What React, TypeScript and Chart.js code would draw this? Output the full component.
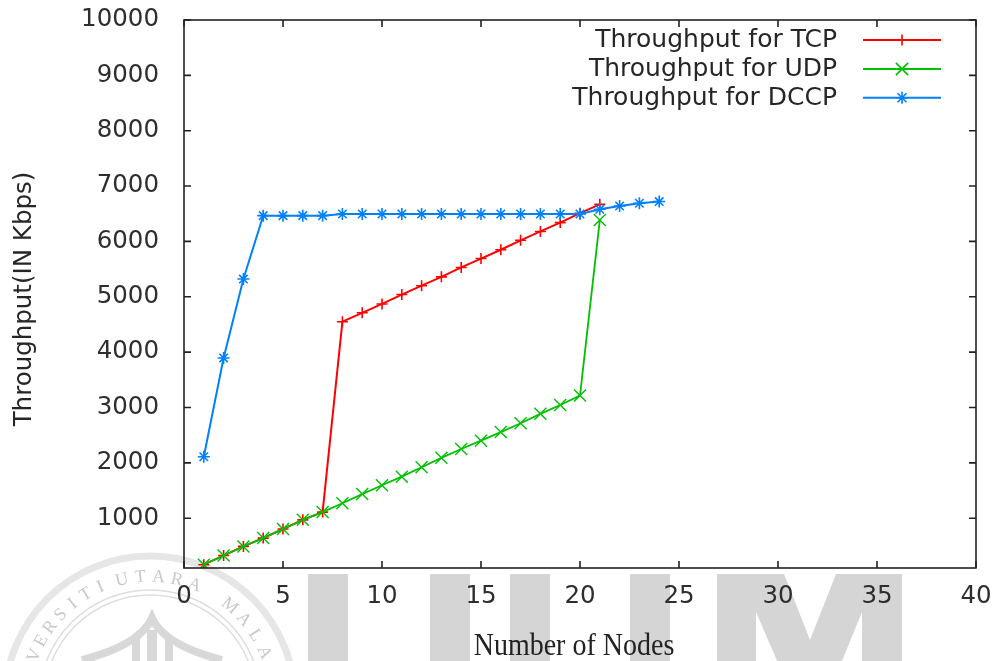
import React, { useEffect, useRef } from "react";
import { Chart, registerables } from "chart.js";

Chart.register(...registerables);

// ---------- data ----------
const tcpNodes = [1, 2, 3, 4, 5, 6, 7, 8, 9, 10, 11, 12, 13, 14, 15, 16, 17, 18, 19, 20, 21];
const tcpThroughput = [160, 325, 490, 640, 805, 970, 1110, 4550, 4710, 4870, 5040, 5200, 5360, 5530, 5690, 5850, 6020, 6180, 6340, 6510, 6670];

const udpNodes = [1, 2, 3, 4, 5, 6, 7, 8, 9, 10, 11, 12, 13, 14, 15, 16, 17, 18, 19, 20, 21];
const udpThroughput = [160, 325, 490, 640, 805, 970, 1110, 1270, 1435, 1595, 1750, 1920, 2090, 2250, 2400, 2555, 2715, 2885, 3045, 3215, 6385];

const dccpNodes = [1, 2, 3, 4, 5, 6, 7, 8, 9, 10, 11, 12, 13, 14, 15, 16, 17, 18, 19, 20, 21, 22, 23, 24];
const dccpThroughput = [2110, 3895, 5320, 6465, 6465, 6465, 6465, 6495, 6495, 6495, 6495, 6495, 6495, 6495, 6495, 6495, 6495, 6495, 6495, 6495, 6580, 6640, 6690, 6720];

const seriesLabels = ["Throughput for TCP", "Throughput for UDP", "Throughput for DCCP"];
const seriesColors = ["#ff0000", "#00c000", "#0080ff"];

const xTickValues = [0, 5, 10, 15, 20, 25, 30, 35, 40];
const yTickValues = [1000, 2000, 3000, 4000, 5000, 6000, 7000, 8000, 9000, 10000];

const xTitle = "Number of Nodes";
const yTitle = "Throughput(IN Kbps)";
const watermarkText = ["UNIVERSITI", "UTARA", "MALAYSIA"];

const toPoints = (xs: number[], ys: number[]) => xs.map((x, i) => ({ x, y: ys[i] }));

const SANS = '"DejaVu Sans", sans-serif';
const SERIF = '"Liberation Serif", "Times New Roman", serif';

function drawMarker(ctx: CanvasRenderingContext2D, style: string, x: number, y: number, r: number) {
  ctx.beginPath();
  if (style === "cross" || style === "star") {
    ctx.moveTo(x - r, y);
    ctx.lineTo(x + r, y);
    ctx.moveTo(x, y - r);
    ctx.lineTo(x, y + r);
  }
  if (style === "crossRot" || style === "star") {
    const d = style === "star" ? r * 0.75 : r * 0.72;
    ctx.moveTo(x - d, y - d);
    ctx.lineTo(x + d, y + d);
    ctx.moveTo(x - d, y + d);
    ctx.lineTo(x + d, y - d);
  }
  ctx.stroke();
}

const decor = {
  id: "decor",
  beforeDraw(chart: any) {
    const ctx: CanvasRenderingContext2D = chart.ctx;
    ctx.save();
    // watermark big letters
    ctx.fillStyle = "#d5d5d5";
    const bars = [
      [308, 348],
      [430, 470],
      [510, 550],
      [630, 670],
      [717, 756],
      [862, 902],
    ];
    bars.forEach(([a, b]) => ctx.fillRect(a, 574, b - a, 100));
    ctx.beginPath();
    ctx.moveTo(756, 574);
    ctx.lineTo(784, 574);
    ctx.lineTo(810, 640);
    ctx.lineTo(836, 574);
    ctx.lineTo(862, 574);
    ctx.lineTo(862, 612);
    ctx.lineTo(826, 700);
    ctx.lineTo(794, 700);
    ctx.lineTo(756, 612);
    ctx.closePath();
    ctx.fill();

    // watermark seal
    const cx = 150;
    const cy = 701;
    ctx.strokeStyle = "#e6e6e6";
    ctx.lineWidth = 7;
    ctx.beginPath();
    ctx.arc(cx, cy, 145, 0, Math.PI * 2);
    ctx.stroke();
    ctx.strokeStyle = "#dedede";
    ctx.lineWidth = 1.5;
    ctx.beginPath();
    ctx.arc(cx, cy, 111, 0, Math.PI * 2);
    ctx.stroke();
    ctx.beginPath();
    ctx.arc(cx, cy, 106, 0, Math.PI * 2);
    ctx.stroke();

    ctx.fillStyle = "#c9c9c9";
    ctx.font = "18px " + SERIF;
    ctx.textAlign = "center";
    ctx.textBaseline = "middle";
    const starts = [-91, -13, 40];
    const steps = [7.5, 8.5, 9];
    watermarkText.forEach((word, wi) => {
      for (let i = 0; i < word.length; i++) {
        const ang = ((starts[wi] + i * steps[wi]) * Math.PI) / 180;
        ctx.save();
        ctx.translate(cx + 124 * Math.sin(ang), cy - 124 * Math.cos(ang));
        ctx.rotate(ang);
        ctx.fillText(word[i], 0, 0);
        ctx.restore();
      }
    });
    ctx.strokeStyle = "#d8d8d8";
    ctx.lineWidth = 8;
    ctx.beginPath();
    ctx.moveTo(82, 660);
    ctx.quadraticCurveTo(140, 645, 152, 618);
    ctx.quadraticCurveTo(164, 645, 222, 660);
    ctx.stroke();
    ctx.fillStyle = "#d8d8d8";
    ctx.fillRect(132, 636, 8, 30);
    ctx.fillRect(147, 630, 10, 36);
    ctx.fillRect(165, 636, 8, 30);
    ctx.restore();
  },
  afterDraw(chart: any) {
    const ctx: CanvasRenderingContext2D = chart.ctx;
    const { left, right, top, bottom } = chart.chartArea;
    const xs = chart.scales.x;
    const ys = chart.scales.y;
    ctx.save();
    // frame
    ctx.strokeStyle = "#222222";
    ctx.lineWidth = 1.6;
    ctx.strokeRect(left, top, right - left, bottom - top);
    // inward ticks (mirrored)
    const tl = 7;
    ctx.beginPath();
    xTickValues.forEach((v) => {
      const px = xs.getPixelForValue(v);
      ctx.moveTo(px, bottom);
      ctx.lineTo(px, bottom - tl);
      ctx.moveTo(px, top);
      ctx.lineTo(px, top + tl);
    });
    yTickValues.forEach((v) => {
      const py = ys.getPixelForValue(v);
      ctx.moveTo(left, py);
      ctx.lineTo(left + tl, py);
      ctx.moveTo(right, py);
      ctx.lineTo(right - tl, py);
    });
    ctx.stroke();

    // legend
    const styles = ["cross", "crossRot", "star"];
    const radii = [5.5, 8.5, 6];
    const rows = [40, 69, 97.7];
    ctx.font = "25px " + SANS;
    ctx.textAlign = "right";
    ctx.textBaseline = "alphabetic";
    seriesLabels.forEach((lab, i) => {
      ctx.fillStyle = "#262626";
      ctx.fillText(lab, 837, rows[i] + 7);
      ctx.strokeStyle = seriesColors[i];
      ctx.lineWidth = 2;
      ctx.beginPath();
      ctx.moveTo(863, rows[i]);
      ctx.lineTo(941, rows[i]);
      ctx.stroke();
      ctx.lineWidth = 1.6;
      drawMarker(ctx, styles[i], 902, rows[i], radii[i]);
    });

    // axis titles
    ctx.fillStyle = "#262626";
    ctx.textAlign = "center";
    ctx.textBaseline = "middle";
    ctx.font = "24.5px " + SANS;
    ctx.save();
    ctx.translate(25, 299);
    ctx.rotate(-Math.PI / 2);
    ctx.fillText(yTitle, 0, 0);
    ctx.restore();

    ctx.fillStyle = "#222222";
    ctx.font = "28px " + SERIF;
    ctx.textBaseline = "alphabetic";
    ctx.save();
    ctx.translate(574, 655);
    ctx.scale(1, 1.15);
    ctx.fillText(xTitle, 0, 0);
    ctx.restore();
    ctx.restore();
  },
};

export default function App() {
  const ref = useRef<HTMLCanvasElement | null>(null);
  useEffect(() => {
    if (!ref.current) return;
    const chart = new Chart(ref.current, {
      type: "line",
      data: {
        datasets: [
          {
            label: seriesLabels[0],
            data: toPoints(tcpNodes, tcpThroughput),
            borderColor: seriesColors[0],
            backgroundColor: seriesColors[0],
            borderWidth: 2,
            pointStyle: "cross",
            pointRadius: 5.5,
            pointBorderWidth: 1.6,
            pointBorderColor: seriesColors[0],
            order: 3,
          },
          {
            label: seriesLabels[1],
            data: toPoints(udpNodes, udpThroughput),
            borderColor: seriesColors[1],
            backgroundColor: seriesColors[1],
            borderWidth: 1.8,
            pointStyle: "crossRot",
            pointRadius: 8.5,
            pointBorderWidth: 1.4,
            pointBorderColor: seriesColors[1],
            order: 2,
          },
          {
            label: seriesLabels[2],
            data: toPoints(dccpNodes, dccpThroughput),
            borderColor: seriesColors[2],
            backgroundColor: seriesColors[2],
            borderWidth: 2,
            pointStyle: "star",
            pointRadius: 6,
            pointBorderWidth: 1.6,
            pointBorderColor: seriesColors[2],
            order: 1,
          },
        ],
      },
      options: {
        animation: false,
        responsive: false,
        events: [],
        layout: { padding: { left: 0, right: 19, top: 20, bottom: 0 } },
        plugins: {
          legend: { display: false },
          tooltip: { enabled: false },
          title: { display: false },
        },
        elements: { line: { tension: 0, fill: false } },
        scales: {
          x: {
            type: "linear",
            min: 0,
            max: 40,
            grid: { display: false, drawTicks: false },
            border: { display: false },
            afterFit: (s: any) => {
              s.height = 93;
              s.paddingLeft = 0;
              s.paddingRight = 0;
            },
            afterBuildTicks: (s: any) => {
              s.ticks = xTickValues.map((v) => ({ value: v }));
            },
            ticks: {
              padding: 14,
              color: "#2e2e2e",
              font: { family: SANS, size: 24.5 },
              callback: (v: any) => String(v),
              maxRotation: 0,
              autoSkip: false,
            },
          },
          y: {
            type: "linear",
            min: 100,
            max: 10000,
            grid: { display: false, drawTicks: false },
            border: { display: false },
            afterFit: (s: any) => {
              s.width = 184;
              s.paddingTop = 0;
              s.paddingBottom = 0;
            },
            afterBuildTicks: (s: any) => {
              s.ticks = yTickValues.map((v) => ({ value: v }));
            },
            ticks: {
              padding: 25,
              color: "#2e2e2e",
              font: { family: SANS, size: 24.5 },
              callback: (v: any) => String(v),
              autoSkip: false,
            },
          },
        },
      },
      plugins: [decor],
    } as any);
    return () => chart.destroy();
  }, []);
  return (
    <div style={{ position: "absolute", left: 0, top: 0, width: 995, height: 661, background: "#ffffff" }}>
      <canvas ref={ref} width={995} height={661} style={{ display: "block", width: 995, height: 661 }} />
    </div>
  );
}
